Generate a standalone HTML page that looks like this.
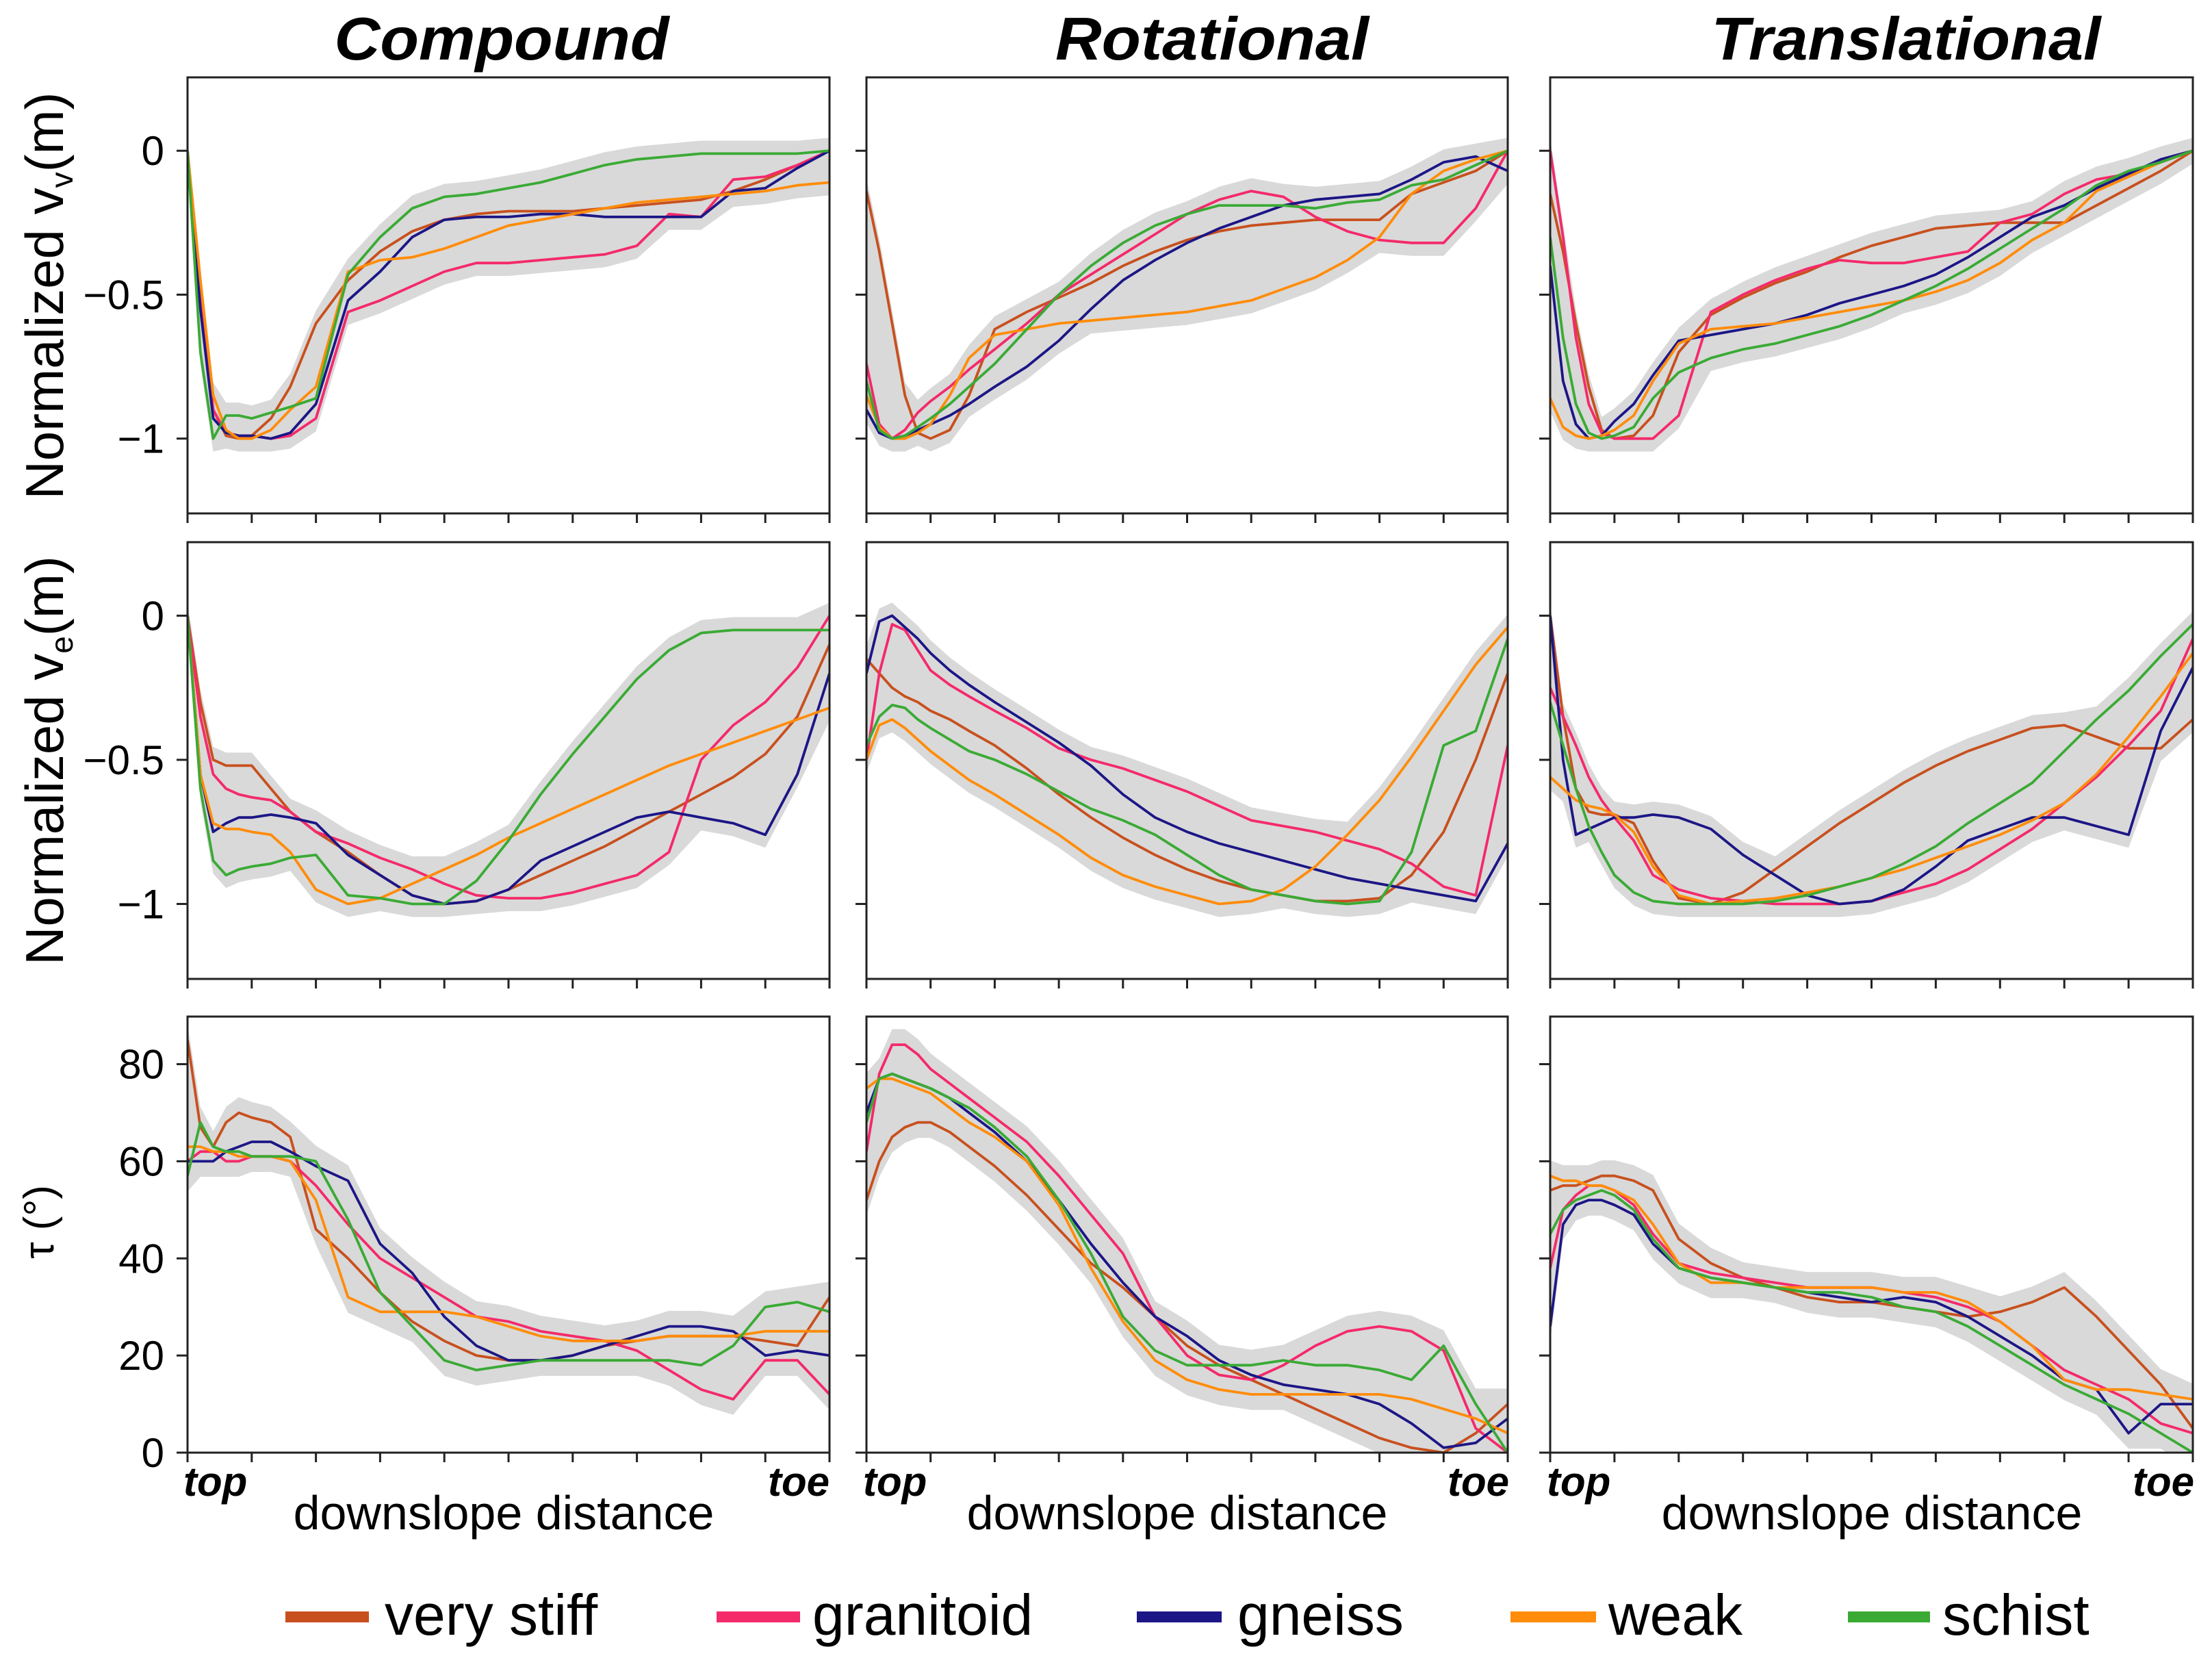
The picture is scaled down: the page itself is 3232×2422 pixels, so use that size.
<!DOCTYPE html>
<html><head><meta charset="utf-8"><title>Normalized displacement and tau vs downslope distance</title>
<style>html,body{margin:0;padding:0;background:#fff}svg{display:block}text{font-family:"Liberation Sans",Arial,sans-serif;fill:#000}</style>
</head><body>
<svg id="fig" width="3232" height="2422" viewBox="0 0 3232 2422" xmlns="http://www.w3.org/2000/svg">
<rect width="3232" height="2422" fill="#fff"/>
<g id="titles" font-weight="bold" font-style="italic" font-size="88">
<text x="733" y="87" text-anchor="middle" textLength="489" lengthAdjust="spacingAndGlyphs">Compound</text>
<text x="1771" y="87" text-anchor="middle" textLength="458" lengthAdjust="spacingAndGlyphs">Rotational</text>
<text x="2785" y="87" text-anchor="middle" textLength="569" lengthAdjust="spacingAndGlyphs">Translational</text>
</g>
<g font-size="78">
<text transform="translate(92,432) rotate(-90)" text-anchor="middle">Normalized v<tspan font-size="46" dy="14">v</tspan><tspan dy="-14">(m)</tspan></text>
<text transform="translate(92,1111) rotate(-90)" text-anchor="middle">Normalized v<tspan font-size="46" dy="14">e</tspan><tspan dy="-14">(m)</tspan></text>
<text transform="translate(78,1785) rotate(-90)" text-anchor="middle" font-size="62">τ (°)</text>
</g>
<g id="plots"></g>
<g>
<text x="268" y="2185" font-size="60" font-weight="bold" font-style="italic">top</text>
<text x="1212" y="2185" font-size="60" font-weight="bold" font-style="italic" text-anchor="end">toe</text>
<text x="736" y="2234" font-size="70" text-anchor="middle">downslope distance</text>
<text x="1261" y="2185" font-size="60" font-weight="bold" font-style="italic">top</text>
<text x="2205" y="2185" font-size="60" font-weight="bold" font-style="italic" text-anchor="end">toe</text>
<text x="1720" y="2234" font-size="70" text-anchor="middle">downslope distance</text>
<text x="2260" y="2185" font-size="60" font-weight="bold" font-style="italic">top</text>
<text x="3206" y="2185" font-size="60" font-weight="bold" font-style="italic" text-anchor="end">toe</text>
<text x="2735" y="2234" font-size="70" text-anchor="middle">downslope distance</text>
</g>
<g font-size="84">
<g><rect x="417" y="2354" width="122" height="16" fill="#c8501e"/><text x="562" y="2388">very stiff</text></g>
<g><rect x="1047" y="2354" width="122" height="16" fill="#f42a6a"/><text x="1187" y="2388">granitoid</text></g>
<g><rect x="1661" y="2354" width="124" height="16" fill="#1c1686"/><text x="1808" y="2388">gneiss</text></g>
<g><rect x="2207" y="2354" width="125" height="16" fill="#ff8c0a"/><text x="2350" y="2388">weak</text></g>
<g><rect x="2700" y="2354" width="120" height="16" fill="#3aaa35"/><text x="2838" y="2388">schist</text></g>
</g>
</svg>
<script>
const xs = [0,.02,.04,.06,.08,.1,.13,.16,.2,.25,.3,.35,.4,.45,.5,.55,.6,.65,.7,.75,.8,.85,.9,.95,1];
const seriesNames = ["very-stiff","granitoid","gneiss","weak","schist"];
const seriesColors = ["#c8501e","#f42a6a","#1c1686","#ff8c0a","#3aaa35"];
const vvTicks = [0,-0.5,-1];
const vvTickLabels = ["0","\u22120.5","\u22121"];
const tauTicks = [0,20,40,60,80];
const tauTickLabels = ["0","20","40","60","80"];

// Compound vv
const vvCompStiff = [0,-0.5,-0.9,-0.99,-1,-0.99,-0.93,-0.82,-0.6,-0.45,-0.35,-0.28,-0.24,-0.22,-0.21,-0.21,-0.21,-0.2,-0.19,-0.18,-0.17,-0.14,-0.1,-0.05,0];
const vvCompGran = [0,-0.5,-0.9,-0.98,-0.99,-0.99,-1,-0.99,-0.93,-0.56,-0.52,-0.47,-0.42,-0.39,-0.39,-0.38,-0.37,-0.36,-0.33,-0.22,-0.23,-0.1,-0.09,-0.05,0];
const vvCompGneiss = [0,-0.55,-0.93,-0.98,-0.99,-0.99,-1,-0.98,-0.88,-0.52,-0.42,-0.3,-0.24,-0.23,-0.23,-0.22,-0.22,-0.23,-0.23,-0.23,-0.23,-0.14,-0.13,-0.06,0];
const vvCompWeak = [0,-0.45,-0.85,-0.97,-1,-1,-0.97,-0.9,-0.82,-0.42,-0.38,-0.37,-0.34,-0.3,-0.26,-0.24,-0.22,-0.2,-0.18,-0.17,-0.16,-0.15,-0.14,-0.12,-0.11];
const vvCompSchist = [0,-0.7,-1,-0.92,-0.92,-0.93,-0.91,-0.89,-0.86,-0.43,-0.3,-0.2,-0.16,-0.15,-0.13,-0.11,-0.08,-0.05,-0.03,-0.02,-0.01,-0.01,-0.01,-0.01,0];
// Rotational vv
const vvRotStiff = [-0.14,-0.35,-0.6,-0.85,-0.98,-1,-0.97,-0.85,-0.62,-0.56,-0.51,-0.46,-0.4,-0.35,-0.31,-0.28,-0.26,-0.25,-0.24,-0.24,-0.24,-0.15,-0.11,-0.07,0];
const vvRotGran = [-0.74,-0.95,-1,-0.97,-0.91,-0.87,-0.82,-0.76,-0.69,-0.6,-0.5,-0.43,-0.36,-0.29,-0.22,-0.17,-0.14,-0.16,-0.23,-0.28,-0.31,-0.32,-0.32,-0.2,0];
const vvRotGneiss = [-0.9,-0.98,-1,-0.99,-0.97,-0.95,-0.92,-0.88,-0.82,-0.75,-0.66,-0.55,-0.45,-0.38,-0.32,-0.27,-0.23,-0.19,-0.17,-0.16,-0.15,-0.1,-0.04,-0.02,-0.07];
const vvRotWeak = [-0.85,-0.96,-1,-1,-0.98,-0.95,-0.85,-0.72,-0.64,-0.62,-0.6,-0.59,-0.58,-0.57,-0.56,-0.54,-0.52,-0.48,-0.44,-0.38,-0.3,-0.15,-0.07,-0.03,0];
const vvRotSchist = [-0.8,-0.97,-1,-0.99,-0.96,-0.93,-0.88,-0.82,-0.74,-0.62,-0.5,-0.4,-0.32,-0.26,-0.22,-0.19,-0.19,-0.19,-0.2,-0.18,-0.17,-0.12,-0.1,-0.05,0];
// Translational vv
const vvTransStiff = [-0.15,-0.35,-0.6,-0.82,-0.97,-1,-0.99,-0.92,-0.7,-0.57,-0.51,-0.46,-0.42,-0.37,-0.33,-0.3,-0.27,-0.26,-0.25,-0.25,-0.25,-0.19,-0.13,-0.07,0];
const vvTransGran = [0,-0.3,-0.65,-0.88,-0.98,-1,-1,-1,-0.92,-0.56,-0.5,-0.45,-0.41,-0.38,-0.39,-0.39,-0.37,-0.35,-0.25,-0.22,-0.15,-0.1,-0.08,-0.04,0];
const vvTransGneiss = [-0.4,-0.8,-0.95,-1,-0.99,-0.94,-0.88,-0.78,-0.66,-0.64,-0.62,-0.6,-0.57,-0.53,-0.5,-0.47,-0.43,-0.37,-0.3,-0.23,-0.19,-0.13,-0.08,-0.03,0];
const vvTransWeak = [-0.86,-0.96,-0.99,-1,-0.99,-0.97,-0.92,-0.8,-0.67,-0.62,-0.61,-0.6,-0.58,-0.56,-0.54,-0.52,-0.49,-0.45,-0.39,-0.31,-0.25,-0.14,-0.09,-0.04,0];
const vvTransSchist = [-0.3,-0.65,-0.88,-0.98,-1,-0.99,-0.96,-0.86,-0.77,-0.72,-0.69,-0.67,-0.64,-0.61,-0.57,-0.52,-0.47,-0.41,-0.34,-0.27,-0.2,-0.12,-0.07,-0.04,0];
// Compound ve
const veCompStiff = [0,-0.3,-0.5,-0.52,-0.52,-0.52,-0.6,-0.68,-0.75,-0.82,-0.9,-0.97,-1,-0.99,-0.95,-0.9,-0.85,-0.8,-0.74,-0.68,-0.62,-0.56,-0.48,-0.35,-0.1];
const veCompGran = [0,-0.35,-0.55,-0.6,-0.62,-0.63,-0.64,-0.68,-0.75,-0.79,-0.84,-0.88,-0.93,-0.97,-0.98,-0.98,-0.96,-0.93,-0.9,-0.82,-0.5,-0.38,-0.3,-0.18,0];
const veCompGneiss = [0,-0.55,-0.75,-0.72,-0.7,-0.7,-0.69,-0.7,-0.72,-0.83,-0.9,-0.97,-1,-0.99,-0.95,-0.85,-0.8,-0.75,-0.7,-0.68,-0.7,-0.72,-0.76,-0.55,-0.2];
const veCompWeak = [0,-0.55,-0.72,-0.74,-0.74,-0.75,-0.76,-0.82,-0.95,-1,-0.98,-0.93,-0.88,-0.83,-0.77,-0.72,-0.67,-0.62,-0.57,-0.52,-0.48,-0.44,-0.4,-0.36,-0.32];
const veCompSchist = [0,-0.6,-0.85,-0.9,-0.88,-0.87,-0.86,-0.84,-0.83,-0.97,-0.98,-1,-1,-0.92,-0.78,-0.62,-0.48,-0.35,-0.22,-0.12,-0.06,-0.05,-0.05,-0.05,-0.05];
// Rotational ve
const veRotStiff = [-0.15,-0.2,-0.25,-0.28,-0.3,-0.33,-0.36,-0.4,-0.45,-0.53,-0.62,-0.7,-0.77,-0.83,-0.88,-0.92,-0.95,-0.97,-0.99,-0.99,-0.98,-0.9,-0.75,-0.5,-0.2];
const veRotGran = [-0.5,-0.2,-0.03,-0.05,-0.12,-0.19,-0.24,-0.28,-0.33,-0.39,-0.46,-0.5,-0.53,-0.57,-0.61,-0.66,-0.71,-0.73,-0.75,-0.78,-0.81,-0.86,-0.94,-0.97,-0.45];
const veRotGneiss = [-0.2,-0.02,0,-0.04,-0.08,-0.13,-0.19,-0.24,-0.3,-0.37,-0.44,-0.52,-0.62,-0.7,-0.75,-0.79,-0.82,-0.85,-0.88,-0.91,-0.93,-0.95,-0.97,-0.99,-0.79];
const veRotWeak = [-0.5,-0.38,-0.36,-0.39,-0.43,-0.47,-0.52,-0.57,-0.62,-0.69,-0.76,-0.84,-0.9,-0.94,-0.97,-1,-0.99,-0.95,-0.87,-0.76,-0.64,-0.49,-0.33,-0.17,-0.04];
const veRotSchist = [-0.45,-0.35,-0.31,-0.32,-0.36,-0.39,-0.43,-0.47,-0.5,-0.55,-0.61,-0.67,-0.71,-0.76,-0.83,-0.9,-0.95,-0.97,-0.99,-1,-0.99,-0.82,-0.45,-0.4,-0.08];
// Translational ve
const veTransStiff = [0,-0.35,-0.6,-0.68,-0.69,-0.69,-0.72,-0.85,-0.98,-1,-0.96,-0.88,-0.8,-0.72,-0.65,-0.58,-0.52,-0.47,-0.43,-0.39,-0.38,-0.42,-0.46,-0.46,-0.36];
const veTransGran = [-0.25,-0.35,-0.45,-0.56,-0.64,-0.7,-0.78,-0.9,-0.95,-0.98,-0.99,-1,-1,-1,-0.99,-0.96,-0.93,-0.88,-0.81,-0.74,-0.65,-0.56,-0.45,-0.33,-0.08];
const veTransGneiss = [0,-0.5,-0.76,-0.74,-0.72,-0.7,-0.7,-0.69,-0.7,-0.74,-0.83,-0.9,-0.97,-1,-0.99,-0.95,-0.87,-0.78,-0.74,-0.7,-0.7,-0.73,-0.76,-0.4,-0.18];
const veTransWeak = [-0.56,-0.6,-0.64,-0.66,-0.67,-0.69,-0.75,-0.87,-0.97,-1,-0.99,-0.98,-0.96,-0.94,-0.91,-0.88,-0.84,-0.8,-0.76,-0.71,-0.65,-0.55,-0.42,-0.28,-0.13];
const veTransSchist = [-0.3,-0.45,-0.6,-0.73,-0.82,-0.9,-0.96,-0.99,-1,-1,-1,-0.99,-0.97,-0.94,-0.91,-0.86,-0.8,-0.72,-0.65,-0.58,-0.47,-0.36,-0.26,-0.14,-0.03];
// Compound tau
const tauCompStiff = [85,67,63,68,70,69,68,65,46,40,33,27,23,20,19,19,20,22,23,24,24,24,23,22,32];
const tauCompGran = [60,62,62,60,60,61,61,60,55,47,40,36,32,28,27,25,24,23,21,17,13,11,19,19,12];
const tauCompGneiss = [60,60,60,62,63,64,64,62,59,56,43,37,28,22,19,19,20,22,24,26,26,25,20,21,20];
const tauCompWeak = [63,63,62,62,61,61,61,60,52,32,29,29,29,28,26,24,23,23,23,24,24,24,25,25,25];
const tauCompSchist = [57,68,63,62,62,61,61,61,60,48,33,26,19,17,18,19,19,19,19,19,18,22,30,31,29];
// Rotational tau
const tauRotStiff = [52,60,65,67,68,68,66,63,59,53,46,39,34,28,22,18,15,12,9,6,3,1,0,4,10];
const tauRotGran = [62,78,84,84,82,79,76,73,69,64,57,49,41,28,20,16,15,18,22,25,26,25,21,5,0];
const tauRotGneiss = [70,77,78,77,76,75,73,70,66,60,52,43,35,28,24,19,16,14,13,12,10,6,1,2,7];
const tauRotWeak = [75,77,77,76,75,74,71,68,65,60,51,38,27,19,15,13,12,12,12,12,12,11,9,7,4];
const tauRotSchist = [68,77,78,77,76,75,73,71,67,61,52,41,28,21,18,18,18,19,18,18,17,15,22,10,0];
// Translational tau
const tauTransStiff = [54,55,55,56,57,57,56,54,44,39,36,34,32,31,31,30,29,28,29,31,34,28,21,14,5];
const tauTransGran = [38,50,53,55,55,54,51,45,39,37,36,35,34,34,34,33,32,30,27,22,17,14,11,6,4];
const tauTransGneiss = [26,47,51,52,52,51,49,43,38,36,35,34,33,32,31,32,31,28,24,20,15,13,4,10,10];
const tauTransWeak = [57,56,56,55,55,54,52,47,39,35,35,34,34,34,34,33,33,31,27,22,15,13,13,12,11];
const tauTransSchist = [45,50,52,53,54,53,50,44,38,36,35,34,33,33,32,30,29,26,22,18,14,11,8,4,0];

const NS = "http://www.w3.org/2000/svg";
const colX = [[274,1212],[1266,2203],[2265,3204]];
const rowY = [[113,750],[792,1430],[1485,2122]];
const rowLim = [[-1.26,0.255],[-1.26,0.255],[0,89.8]];
const rowPad = [0.045,0.045,3.2];
const panelSeries = [
  [vvCompStiff,vvCompGran,vvCompGneiss,vvCompWeak,vvCompSchist],
  [vvRotStiff,vvRotGran,vvRotGneiss,vvRotWeak,vvRotSchist],
  [vvTransStiff,vvTransGran,vvTransGneiss,vvTransWeak,vvTransSchist],
  [veCompStiff,veCompGran,veCompGneiss,veCompWeak,veCompSchist],
  [veRotStiff,veRotGran,veRotGneiss,veRotWeak,veRotSchist],
  [veTransStiff,veTransGran,veTransGneiss,veTransWeak,veTransSchist],
  [tauCompStiff,tauCompGran,tauCompGneiss,tauCompWeak,tauCompSchist],
  [tauRotStiff,tauRotGran,tauRotGneiss,tauRotWeak,tauRotSchist],
  [tauTransStiff,tauTransGran,tauTransGneiss,tauTransWeak,tauTransSchist]
];
const rowNames = ["vv","ve","tau"];
const colNames = ["compound","rotational","translational"];
const plots = document.getElementById("plots");

function mk(tag, attrs){const e=document.createElementNS(NS,tag);for(const k in attrs)e.setAttribute(k,attrs[k]);return e;}

for(let r=0;r<3;r++){
  for(let c=0;c<3;c++){
    const [x0,x1]=colX[c],[y0,y1]=rowY[r],[ymin,ymax]=rowLim[r];
    const sx=v=>x0+v*(x1-x0);
    const sy=v=>y1-(v-ymin)/(ymax-ymin)*(y1-y0);
    const g=mk("g",{});
    
    
    plots.appendChild(g);
    const cid="clip"+r+c;
    const cp=mk("clipPath",{id:cid});cp.appendChild(mk("rect",{x:x0,y:y0,width:x1-x0,height:y1-y0}));g.appendChild(cp);
    const data=panelSeries[r*3+c];
    const up=[],lo=[];
    xs.forEach((x,i)=>{let mx=-1e9,mn=1e9;data.forEach(s=>{mx=Math.max(mx,s[i]);mn=Math.min(mn,s[i]);});up.push([sx(x),sy(mx+rowPad[r])]);lo.push([sx(x),sy(mn-rowPad[r])]);});
    const pts=up.concat(lo.reverse()).map(p=>p[0].toFixed(1)+","+p[1].toFixed(1)).join(" ");
    const band=mk("polygon",{points:pts,fill:"#d9d9d9","clip-path":"url(#"+cid+")"});
    
    
    g.appendChild(band);
    data.forEach((s,k)=>{
      const d=s.map((v,i)=>(i?"L":"M")+sx(xs[i]).toFixed(1)+","+sy(v).toFixed(1)).join("");
      const p=mk("path",{d:d,fill:"none",stroke:seriesColors[k],"stroke-width":3.8,"stroke-linejoin":"round","clip-path":"url(#"+cid+")"});
      
      
      g.appendChild(p);
    });
    const frame=mk("rect",{x:x0,y:y0,width:x1-x0,height:y1-y0,fill:"none",stroke:"#222","stroke-width":3});
    
    
    g.appendChild(frame);
    for(let t=0;t<=10;t++){
      const tx=sx(t/10);
      const tk=mk("line",{x1:tx,x2:tx,y1:y1,y2:y1+14,stroke:"#222","stroke-width":3});
      
      
      g.appendChild(tk);
    }
    const ticks=r<2?vvTicks:tauTicks, labels=r<2?vvTickLabels:tauTickLabels;
    ticks.forEach((tv,i)=>{
      const ty=sy(tv);
      const tk=mk("line",{x1:x0-16,x2:x0,y1:ty,y2:ty,stroke:"#222","stroke-width":3});
      
      
      g.appendChild(tk);
      if(c===0){
        const tl=mk("text",{x:x0-34,y:ty+21,"text-anchor":"end","font-size":60});
        tl.textContent=labels[i];
        
        
        g.appendChild(tl);
      }
    });
  }
}
</script>
</body></html>
